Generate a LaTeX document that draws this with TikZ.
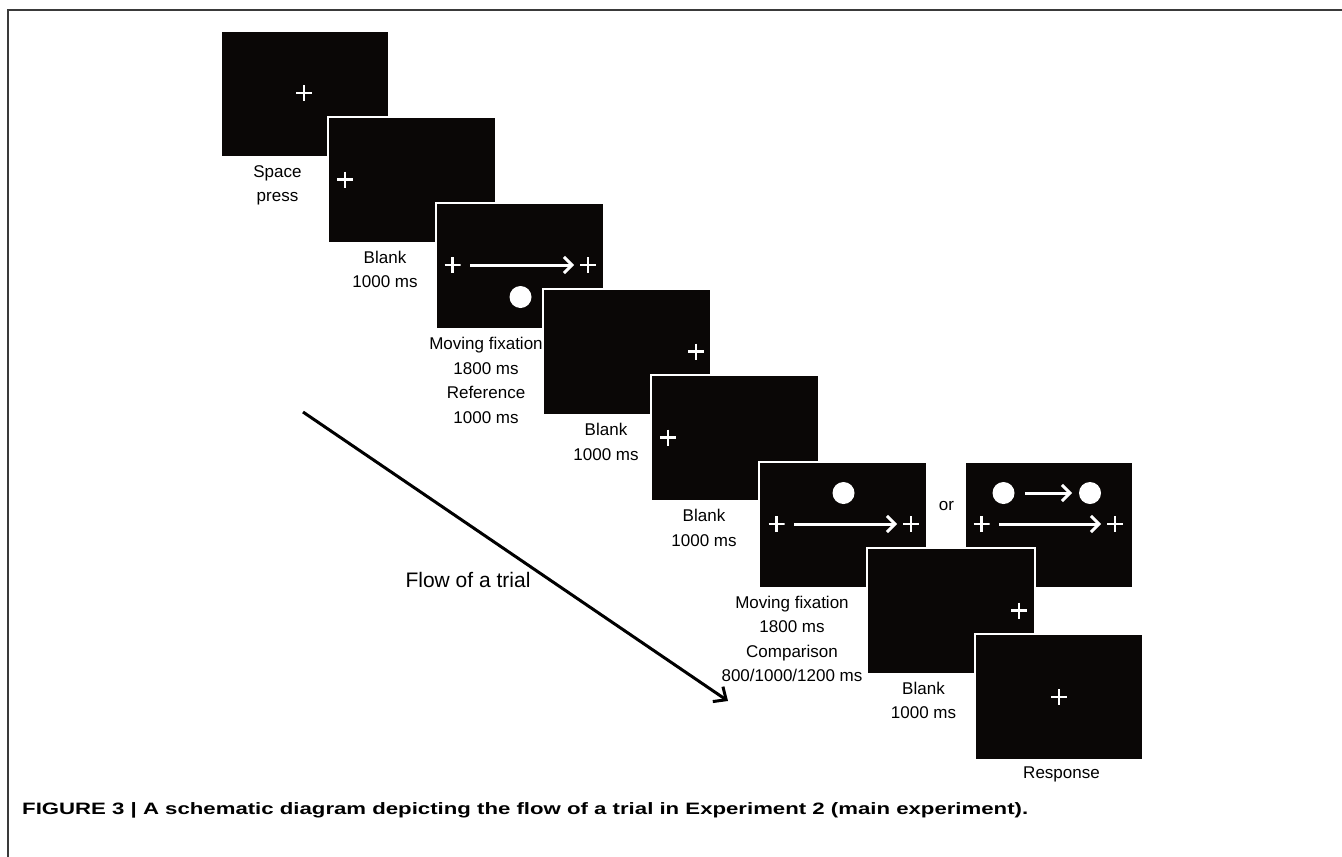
\documentclass[tikz,border=0pt]{standalone}
\usepackage{graphicx}
\usepackage{fontspec}
\setmainfont{Liberation Sans}
\usetikzlibrary{arrows.meta}
\definecolor{scr}{HTML}{0A0706}
\definecolor{frm}{HTML}{3A3A3A}
\begin{document}
\begin{tikzpicture}[x=1pt,y=-1pt,
  scrbox/.style={fill=scr, draw=white, line width=2pt, minimum width=168pt, minimum height=126pt, anchor=north west, inner sep=0pt, outer sep=0pt},
  lbl/.style={anchor=north, align=center, inner sep=0pt, font=\fontsize{17}{24.5}\selectfont},
  plusnode/.style={minimum size=16pt, inner sep=0pt, outer sep=0pt,
    path picture={\draw[white, line width=2.2pt] (path picture bounding box.west)--(path picture bounding box.east) (path picture bounding box.north)--(path picture bounding box.south);}},
  warrow/.style={white, line width=3pt, -{Straight Barb[length=8pt,width=16pt]}},
  disc/.style={circle, fill=white, minimum size=22pt, inner sep=0pt, outer sep=0pt}
]
\useasboundingbox (0,0) rectangle (1342,857);
\fill[white] (0,0) rectangle (1342,857);
% frame
\draw[frm, line width=1.8pt] (8,857) -- (8,10) -- (1342,10);

% screens
\node[scrbox] (s1) at (221,31) {};
\node[plusnode] (p1) at (304,93) {};

\node[scrbox] (s2) at (328,116.5) {};
\node[plusnode] (p2) at (345,179.5) {};

\node[scrbox] (s3) at (435.5,203) {};
\node[plusnode] (p3a) at (452.5,265) {};
\node[plusnode] (p3b) at (588,265) {};
\draw[warrow, shorten <=9.5pt, shorten >=6pt] (p3a) -- (p3b);
\node[disc] (c3) at (520.5,297) {};

\node[scrbox] (s4) at (543,289) {};
\node[plusnode] (p4) at (696,351.5) {};

\node[scrbox] (s5) at (651,375) {};
\node[plusnode] (p5) at (668,437.5) {};

\node[scrbox] (s6) at (759,461.5) {};
\node[plusnode] (p6a) at (776.5,524) {};
\node[plusnode] (p6b) at (911,524) {};
\draw[warrow, shorten <=9.5pt, shorten >=6pt] (p6a) -- (p6b);
\node[disc] (c6) at (843.5,493) {};

\node[scrbox] (s6b) at (965,461.5) {};
\node[plusnode] (p6c) at (981.5,524) {};
\node[plusnode] (p6d) at (1115,524) {};
\draw[warrow, shorten <=9.5pt, shorten >=6pt] (p6c) -- (p6d);
\node[disc] (c6a) at (1003.5,493) {};
\node[disc] (c6b) at (1090,493) {};
\draw[warrow, shorten <=10.5pt, shorten >=7pt] (c6a) -- (c6b);

\node[scrbox] (s7) at (866.5,547.5) {};
\node[plusnode] (p7) at (1019,610.5) {};

\node[scrbox] (s8) at (974.5,634) {};
\node[plusnode] (p8) at (1059,697) {};

% labels
\node[lbl] (l1) at (277.5,165) {Space\\press};
\node[lbl] (l2) at (385,250.5) {Blank\\1000 ms};
\node[lbl] (l3) at (486,337) {Moving fixation\\1800 ms\\Reference\\1000 ms};
\node[lbl] (l4) at (606,423) {Blank\\1000 ms};
\node[lbl] (l5) at (704,509) {Blank\\1000 ms};
\node[lbl] (l6) at (792,595.5) {Moving fixation\\1800 ms\\Comparison\\800/1000/1200 ms};
\node[lbl] (l7) at (923.5,681.5) {Blank\\1000 ms};
\node[lbl] (l8) at (1061.5,767) {Response};
\node[font=\fontsize{17}{20}\selectfont, inner sep=0pt] (or) at (946.5,506.5) {or};

% flow arrow
\node[font=\fontsize{21}{25}\selectfont, inner sep=0pt] (flow) at (468,580) {Flow of a trial};
\coordinate (fa) at (303,412);
\coordinate (fb) at (728,701);
\draw[line width=3pt, -{Straight Barb[length=10pt,width=18pt]}] (fa) -- (fb);

% caption
\node[anchor=base west, inner sep=0pt] (cap) at (22,814) {\resizebox{1006pt}{\height}{\fontsize{16.5}{18}\selectfont\bfseries FIGURE 3 | A schematic diagram depicting the flow of a trial in Experiment 2 (main experiment).}};
\end{tikzpicture}
\end{document}
